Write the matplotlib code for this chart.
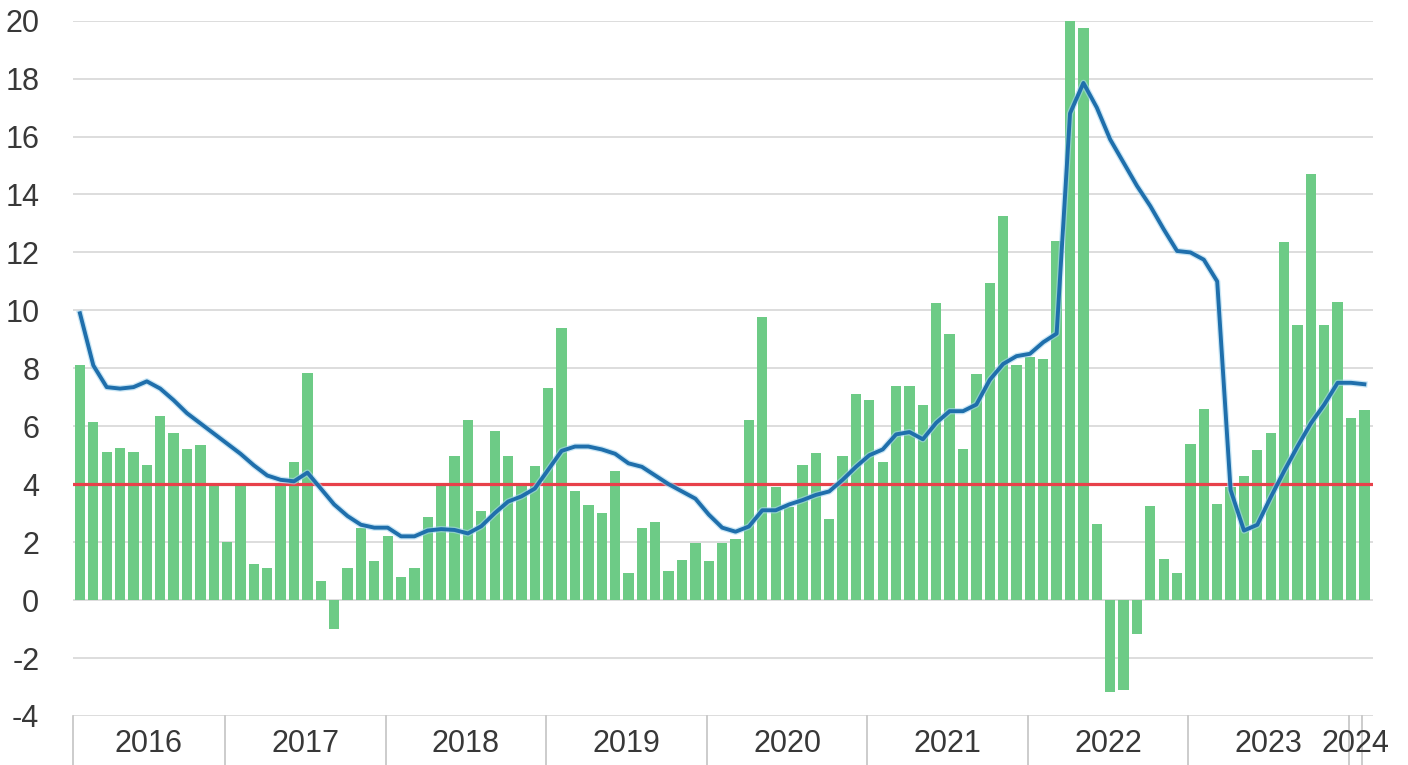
import numpy as np
import matplotlib
matplotlib.use("Agg")
import matplotlib.pyplot as plt
import matplotlib.transforms as mtransforms
import matplotlib.patheffects as pe

# monthly values (bars), from Feb 2016
bar_values = [8.1, 6.15, 5.1, 5.25, 5.1, 4.65, 6.35, 5.75, 5.2, 5.35, 3.95,
              2.0, 3.95, 1.25, 1.12, 3.95, 4.75, 7.85, 0.65, -1.0, 1.12, 2.48, 1.36, 2.2,
              0.8, 1.12, 2.88, 4.05, 4.96, 6.23, 3.06, 5.82, 4.96, 4.0, 4.62, 7.32,
              9.4, 3.77, 3.29, 3.0, 4.46, 0.92, 2.48, 2.71, 1.0, 1.38, 1.96, 1.35,
              1.98, 2.1, 6.23, 9.77, 3.9, 3.2, 4.67, 5.07, 2.8, 4.96, 7.13, 6.9,
              4.75, 7.38, 7.38, 6.72, 10.27, 9.19, 5.22, 7.81, 10.96, 13.25, 8.1, 8.4,
              8.33, 12.38, 20.0, 19.76, 2.62, -3.17, -3.1, -1.16, 3.25, 1.43, 0.95, 5.4,
              6.59, 3.3, 3.9, 4.27, 5.19, 5.76, 12.35, 9.48, 14.71, 9.48, 10.29, 6.27,
              6.56]

# smoothed series (blue line)
line_values = [9.9, 8.1, 7.35, 7.3, 7.35, 7.55, 7.3, 6.9, 6.45, 6.1, 5.75,
               5.4, 5.05, 4.65, 4.3, 4.15, 4.1, 4.4, 3.85, 3.3, 2.9, 2.6, 2.5, 2.5,
               2.2, 2.2, 2.4, 2.45, 2.42, 2.3, 2.55, 3.0, 3.4, 3.58, 3.85, 4.5,
               5.15, 5.3, 5.3, 5.2, 5.05, 4.72, 4.6, 4.3, 4.0, 3.75, 3.5, 2.95,
               2.5, 2.36, 2.54, 3.1, 3.1, 3.3, 3.45, 3.63, 3.75, 4.15, 4.6, 5.0,
               5.2, 5.72, 5.8, 5.55, 6.12, 6.52, 6.52, 6.75, 7.6, 8.15, 8.42, 8.5,
               8.9, 9.2, 16.8, 17.85, 17.0, 15.9, 15.1, 14.3, 13.6, 12.8, 12.05, 12.0,
               11.75, 11.0, 3.8, 2.4, 2.6, 3.55, 4.45, 5.3, 6.1, 6.75, 7.5, 7.5,
               7.45]

ref_level = 4

years = ['2016', '2017', '2018', '2019', '2020', '2021', '2022', '2023', '2024']
months_per_year = [11, 12, 12, 12, 12, 12, 12, 12, 1]

plt.rcParams['font.family'] = ['Liberation Sans Narrow', 'Liberation Sans', 'DejaVu Sans']

fig = plt.figure(figsize=(14.08, 7.65), dpi=100)
ax = fig.add_axes([0.0516, 0.0641, 0.9235, 0.9089])

x = np.arange(len(bar_values))
ax.bar(x, bar_values, width=0.77, color='#6DCB86', zorder=2)
ax.axhline(ref_level, color='#E8414A', lw=2.3, zorder=3)
ax.plot(x, line_values, color='#1F6FAC', lw=2.8, zorder=4, solid_joinstyle='round',
        path_effects=[pe.Stroke(linewidth=4.6, foreground='#A6D6EF', alpha=0.6), pe.Normal()])

xmin, xmax = -0.545, 96.64
ax.set_xlim(xmin, xmax)
ax.set_ylim(-4, 20)

for yv in range(-4, 21, 2):
    ax.axhline(yv, color='#DADADA', lw=1.3, zorder=0)

for s in ax.spines.values():
    s.set_visible(False)

ax.set_yticks(range(-4, 21, 2))
ax.set_yticklabels([str(v) for v in range(-4, 21, 2)])
ax.tick_params(axis='y', length=0, pad=24, labelsize=22, labelcolor='#383838')
ax.set_xticks([])

# category band with year separators
trans = mtransforms.blended_transform_factory(ax.transData, ax.transAxes)
bounds = np.cumsum(months_per_year) - 0.15
edges = [xmin] + list(bounds)
for b in edges:
    ax.plot([b, b], [0, -0.075], transform=trans, color='#C4C4C4', lw=1.2, clip_on=False)
for i, yr in enumerate(years):
    c = (edges[i] + edges[i + 1]) / 2
    ax.text(c, -0.041, yr, transform=trans, ha='center', va='center',
            fontsize=22, color='#383838')

fig.savefig('out.png', dpi=100)
